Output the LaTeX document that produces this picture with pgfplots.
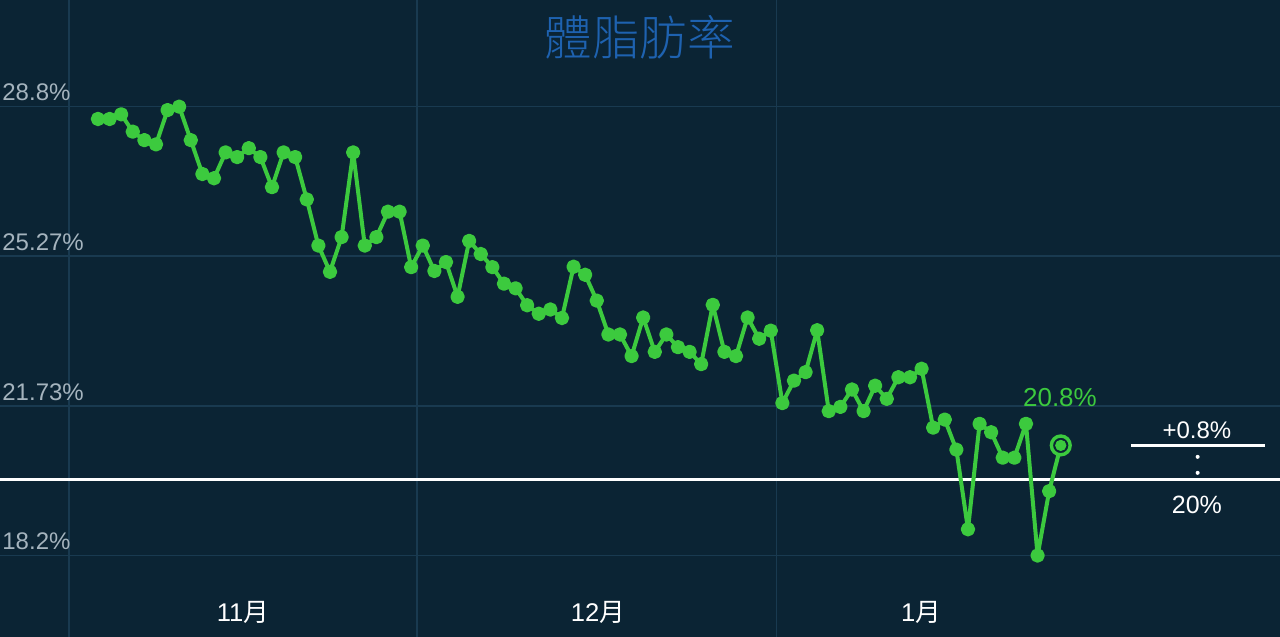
\documentclass[border=0pt]{standalone}
\usepackage{pgfplots}
\usepackage{pgfplotstable}
\pgfplotsset{compat=1.18}
\usepackage{fontspec}
\setmainfont{Liberation Sans}
\newfontfamily\cjk{Noto Sans CJK TC}
\newfontfamily\cjklight{Noto Sans CJK TC Light}
\definecolor{bg}{RGB}{11,36,52}
\definecolor{gridc}{RGB}{25,58,80}
\definecolor{tickc}{RGB}{165,180,190}
\definecolor{titlec}{RGB}{30,98,176}
\definecolor{lgreen}{RGB}{60,202,62}
\tikzset{ylab/.style={anchor=base west, text=tickc, font=\fontsize{12}{14}\selectfont, inner sep=0pt, xshift=1pt, yshift=3pt},
mon/.style={text=white, font=\fontsize{12.8}{14}\selectfont, inner sep=0pt}}

\pgfplotstableread{
x y
2.5 28.51
3.5 28.51
4.5 28.62
5.5 28.21
6.5 28.01
7.5 27.91
8.5 28.72
9.5 28.80
10.5 28.01
11.5 27.21
12.5 27.11
13.5 27.72
14.5 27.61
15.5 27.82
16.5 27.61
17.5 26.90
18.5 27.72
19.5 27.61
20.5 26.61
21.5 25.52
22.5 24.90
23.5 25.72
24.5 27.72
25.5 25.52
26.5 25.72
27.5 26.32
28.5 26.32
29.5 25.01
30.5 25.52
31.5 24.92
32.5 25.13
33.5 24.31
34.5 25.63
35.5 25.32
36.5 25.01
37.5 24.62
38.5 24.51
39.5 24.11
40.5 23.91
41.5 24.01
42.5 23.81
43.5 25.02
44.5 24.83
45.5 24.22
46.5 23.42
47.5 23.42
48.5 22.91
49.5 23.82
50.5 23.01
51.5 23.42
52.5 23.12
53.5 23.01
54.5 22.72
55.5 24.12
56.5 23.01
57.5 22.91
58.5 23.82
59.5 23.32
60.5 23.51
61.5 21.80
62.5 22.33
63.5 22.53
64.5 23.52
65.5 21.61
66.5 21.71
67.5 22.12
68.5 21.61
69.5 22.21
70.5 21.90
71.5 22.41
72.5 22.41
73.5 22.61
74.5 21.22
75.5 21.41
76.5 20.70
77.5 18.82
78.5 21.31
79.5 21.11
80.5 20.51
81.5 20.51
82.5 21.31
83.5 18.20
84.5 19.72
85.5 20.80
}\fat

\begin{document}
\begin{tikzpicture}
\begin{axis}[
  scale only axis, width=640pt, height=318.5pt,
  xmin=-5.948, xmax=104.4, ymin=16.275, ymax=31.32,
  axis background/.style={fill=bg},
  axis line style={draw=none},
  xtick={0,30,61}, ytick={18.2,21.73,25.27,28.8},
  xticklabel=\empty, yticklabel=\empty,
  major tick length=0pt,
  grid=major, grid style={gridc, line width=0.75pt},
  clip=false,
]
\addplot[white, line width=1.5pt, forget plot] coordinates {(-5.948,20) (104.4,20)};
\addplot[lgreen, line width=2pt, line join=round, mark=*, mark size=2.6pt, mark options={fill=lgreen, draw=none}] table[x=x,y=y]{\fat};
\addplot[lgreen, only marks, mark=*, mark size=4.7pt, mark options={fill=bg, draw=lgreen, line width=1.7pt}] coordinates {(85.5,20.8)};
\addplot[lgreen, only marks, mark=*, mark size=2.6pt, mark options={fill=lgreen, draw=none}] coordinates {(85.5,20.8)};

% y labels
\node[ylab] at (axis cs:-5.948,28.8) {28.8\%};
\node[ylab] at (axis cs:-5.948,25.27) {25.27\%};
\node[ylab] at (axis cs:-5.948,21.73) {21.73\%};
\node[ylab] at (axis cs:-5.948,18.2) {18.2\%};
% months
\node[mon] at (axis cs:15.0,16.866) {11{\cjk 月}};
\node[mon] at (axis cs:45.6,16.866) {12{\cjk 月}};
\node[mon] at (axis cs:73.45,16.866) {1{\cjk 月}};
% title
\node[text=titlec, font=\cjklight\fontsize{23.8}{26}\selectfont] at (axis cs:49.22,30.45) {體脂肪率};
% last value
\node[text=lgreen, font=\fontsize{13}{15}\selectfont] at (axis cs:85.43,21.94) {20.8\%};
% goal annotation
\node[text=white, font=\fontsize{12}{14}\selectfont] at (axis cs:97.24,21.16) {+0.8\%};
\draw[white, line width=1.5pt] (axis cs:91.55,20.79) -- (axis cs:103.1,20.79);
\draw[white, line width=2pt, line cap=round, dash pattern=on 0pt off 8pt] (axis cs:97.3,20.53) -- (axis cs:97.3,20.10);
\node[text=white, font=\fontsize{12.5}{15}\selectfont] at (axis cs:97.24,19.39) {20\%};
\end{axis}
\pgfresetboundingbox
\path[use as bounding box] (current axis.south west) rectangle (current axis.north east);
\end{tikzpicture}
\end{document}
